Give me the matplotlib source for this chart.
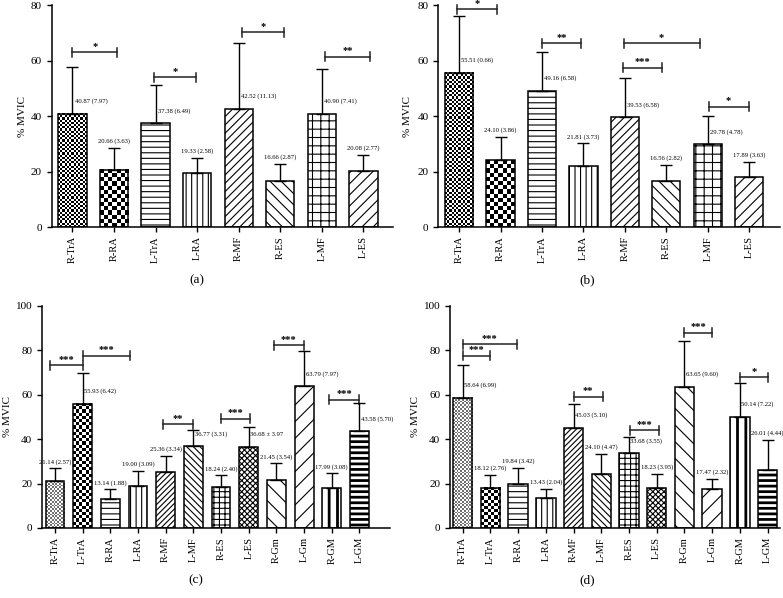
import numpy as np
import matplotlib.pyplot as plt

plt.rcParams['font.family'] = 'Liberation Serif'
plt.rcParams['hatch.linewidth'] = 0.8

names8 = ['R-TrA', 'R-RA', 'L-TrA', 'L-RA', 'R-MF', 'R-ES', 'L-MF', 'L-ES']
names12 = ['R-TrA', 'L-TrA', 'R-RA', 'L-RA', 'R-MF', 'L-MF',
           'R-ES', 'L-ES', 'R-Gm', 'L-Gm', 'R-GM', 'L-GM']

# (a)
mean_a = [40.87, 20.66, 37.38, 19.33, 42.52, 16.66, 40.90, 20.08]
err_a = [16.9, 7.9, 13.7, 5.5, 23.9, 6.2, 16.0, 6.0]
lab_a = ['40.87 (7.97)', '20.66 (3.63)', '37.38 (6.49)', '19.33 (2.58)',
         '42.52 (11.13)', '16.66 (2.87)', '40.90 (7.41)', '20.08 (2.77)']
mode_a = ['r', 't', 'r', 't', 'r', 't', 'r', 't']
sig_a = [(0, 1.08, 62.9, '*'), (1.96, 2.98, 53.9, '*'),
         (4.08, 5.09, 70.2, '*'), (6.07, 7.17, 61.3, '**')]

# (b)
mean_b = [55.51, 24.10, 49.16, 21.81, 39.53, 16.56, 29.78, 17.89]
err_b = [20.7, 8.4, 14.0, 8.3, 14.0, 5.9, 10.2, 5.6]
lab_b = ['55.51 (0.66)', '24.10 (3.86)', '49.16 (6.58)', '21.81 (3.73)',
         '39.53 (6.58)', '16.56 (2.82)', '29.78 (4.78)', '17.89 (3.63)']
mode_b = ['r', 't', 'r', 't', 'r', 't', 'r', 't']
sig_b = [(-0.04, 0.92, 78.4, '*'), (2.0, 2.95, 66.2, '**'),
         (3.95, 4.9, 57.4, '***'), (3.97, 5.8, 66.2, '*'),
         (6.02, 6.98, 43.3, '*')]

# (c)
mean_c = [21.14, 55.93, 13.14, 19.00, 25.36, 36.77, 18.24, 36.68,
          21.45, 63.79, 17.99, 43.58]
err_c = [5.8, 14.1, 4.3, 6.8, 7.2, 7.3, 5.4, 8.6, 7.7, 15.9, 6.6, 12.6]
lab_c = ['21.14 (2.57)', '55.93 (6.42)', '13.14 (1.88)', '19.00 (3.09)',
         '25.36 (3.34)', '36.77 (3.31)', '18.24 (2.40)', '36.68 ± 3.97',
         '21.45 (3.54)', '63.79 (7.97)', '17.99 (3.08)', '43.58 (5.70)']
mode_c = ['t', 'r', 't', 't', 't', 'r', 't', 'r', 't', 'r', 't', 'r']
sig_c = [(-0.17, 1.0, 73.4, '***'), (1.0, 2.72, 77.5, '***'),
         (3.9, 5.0, 46.8, '**'), (6.0, 7.05, 49.2, '***'),
         (7.9, 9.0, 82.4, '***'), (9.9, 11.0, 57.7, '***')]

# (d)
mean_d = [58.64, 18.12, 19.84, 13.43, 45.03, 24.10, 33.68, 18.23,
          63.65, 17.47, 50.14, 26.01]
err_d = [14.7, 5.8, 7.4, 4.3, 10.7, 9.4, 7.3, 6.3, 20.4, 4.8, 15.1, 13.6]
lab_d = ['58.64 (6.99)', '18.12 (2.76)', '19.84 (3.42)', '13.43 (2.04)',
         '45.03 (5.10)', '24.10 (4.47)', '33.68 (3.55)', '18.23 (3.95)',
         '63.65 (9.60)', '17.47 (2.32)', '50.14 (7.22)', '26.01 (4.44)']
mode_d = ['r', 't', 't', 't', 'r', 't', 'r', 't', 'r', 't', 'r', 't']
sig_d = [(0, 1.0, 77.5, '***'), (0, 1.95, 82.7, '***'),
         (4.0, 5.05, 59.1, '**'), (6.05, 7.08, 44.1, '***'),
         (8.0, 9.0, 88.0, '***'), (10.0, 11.0, 67.8, '*')]

hatch8 = ['chk:2.2:k', 'chk:4.2:k', '---', '|||', '////', '\\\\\\', '++', '///']
hatch12 = ['chk:1.8:0.45', 'chk:3.2:k', '---', '|||', '//////', '\\\\\\\\\\',
           '+++', 'xxxxxx', '\\\\', '//', '||', '---']


def checker(ax, x, h, w, spec):
    _, sq, col = spec.split(':')
    sq = float(sq)
    (x0, y0), (x1, y1) = ax.transData.transform([(x - w / 2, 0), (x + w / 2, h)])
    nx = max(1, int(round((x1 - x0) / sq)))
    ny = max(1, int(round((y1 - y0) / sq)))
    img = np.indices((ny, nx)).sum(axis=0) % 2
    dark = 0.0 if col == 'k' else float(col)
    cm = plt.matplotlib.colors.ListedColormap(['white', str(dark)])
    ax.imshow(img, cmap=cm, extent=(x - w / 2, x + w / 2, 0, h), aspect='auto',
              interpolation='nearest', origin='lower', zorder=1)


def panel(rect, names, means, errs, labels, modes, sigs, hatches, ymax, xlim,
          width, caption, cap_xy, ylab_x):
    ax = fig.add_axes(rect)
    n = len(names)
    x = np.arange(n)
    ax.set_xlim(*xlim)
    ax.set_ylim(0, ymax)
    upy = ymax / 222.0  # data units per pixel
    for i in range(n):
        h = hatches[i]
        if h.startswith('chk'):
            checker(ax, i, means[i], width, h)
            ax.bar(i, means[i], width, facecolor='none', edgecolor='k', lw=1.1, zorder=2)
        else:
            thick = names[i].endswith('GM')
            with plt.rc_context({'hatch.linewidth': 2.0 if thick else 0.8}):
                ax.bar(i, means[i], width, color='white', edgecolor='k',
                       hatch=h, lw=1.1, zorder=2)
    ax.errorbar(x, means, yerr=[np.zeros(n), errs], fmt='none', ecolor='k',
                elinewidth=1.0, capsize=4.5, capthick=1.0, zorder=3)
    for i in range(n):
        if modes[i] == 'r':
            ax.text(i + 0.05, means[i] + 5 * ymax / 80 * 0.9, labels[i],
                    fontsize=4.8, ha='left', va='center', zorder=4)
        else:
            ax.text(i, means[i] + errs[i] + 6.5 * upy, labels[i],
                    fontsize=4.8, ha='center', va='center', zorder=4)
    for x1, x2, y, s in sigs:
        ax.plot([x1, x2], [y, y], color='#222222', lw=1.1, clip_on=False)
        for xe in (x1, x2):
            ax.plot([xe, xe], [y - 4.5 * upy, y + 4.5 * upy], color='#222222',
                    lw=1.1, clip_on=False)
        ax.text((x1 + x2) / 2, y + 6 * upy, s, fontsize=7.5, fontweight='bold',
                ha='center', va='center', clip_on=False)
    ax.set_xlim(*xlim)
    ax.set_ylim(0, ymax)
    ax.set_xticks(x)
    ax.set_xticklabels(names, rotation=90, fontsize=7.5)
    ax.set_yticks(np.arange(0, ymax + 1, 20))
    ax.tick_params(axis='y', labelsize=8, length=3.5, width=1)
    ax.tick_params(axis='x', length=3.5, width=1, pad=3)
    ax.set_ylabel('% MVIC', fontsize=8)
    ax.yaxis.set_label_coords(ylab_x, 0.5)
    for s in ('top', 'right'):
        ax.spines[s].set_visible(False)
    for s in ('left', 'bottom'):
        ax.spines[s].set_linewidth(1.1)
    fig.text(cap_xy[0] / 783, 1 - cap_xy[1] / 598, caption, fontsize=9.5,
             ha='center', va='center')
    return ax


fig = plt.figure(figsize=(7.83, 5.98), dpi=100)

panel([0.0660, 0.6204, 0.4363, 0.3712], names8, mean_a, err_a, lab_a, mode_a,
      sig_a, hatch8, 80, (-0.5, 7.72), 0.68, '(a)', (197, 280), -0.073)
panel([0.5598, 0.6204, 0.4364, 0.3712], names8, mean_b, err_b, lab_b, mode_b,
      sig_b, hatch8, 80, (-0.5, 7.74), 0.68, '(b)', (587, 280), -0.077)
panel([0.0536, 0.1171, 0.4444, 0.3712], names12, mean_c, err_c, lab_c, mode_c,
      sig_c, hatch12, 100, (-0.47, 12.1), 0.68, '(c)', (196, 580), -0.086)
panel([0.5747, 0.1171, 0.4215, 0.3712], names12, mean_d, err_d, lab_d, mode_d,
      sig_d, hatch12, 100, (-0.46, 11.45), 0.70, '(d)', (587, 580), -0.091)

fig.savefig('out.png', dpi=100)
